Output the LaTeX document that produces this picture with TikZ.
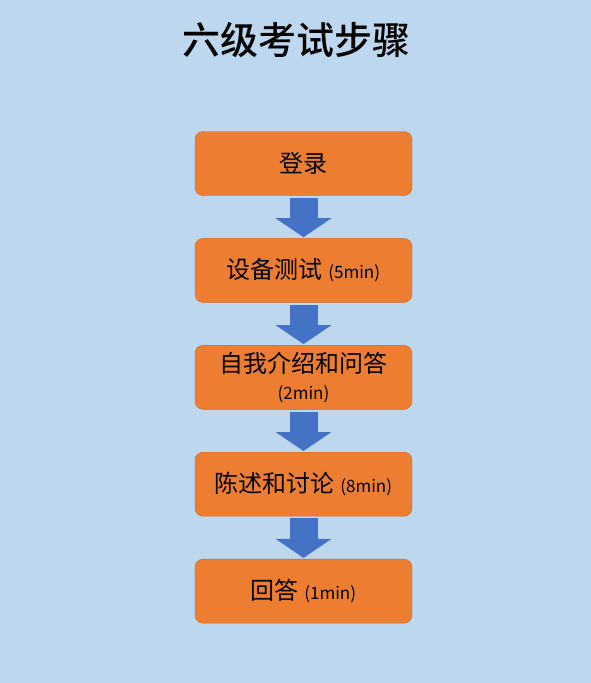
\documentclass[tikz,border=0pt]{standalone}
\usepackage{fontspec}
\setmainfont{Noto Sans CJK SC}
\newfontfamily\titlefont{Noto Sans CJK SC Medium}
\usetikzlibrary{positioning,arrows.meta}
\definecolor{bgblue}{RGB}{189,215,238}
\definecolor{boxorange}{RGB}{237,125,49}
\definecolor{boxedge}{RGB}{205,105,40}
\definecolor{arrowblue}{RGB}{68,114,196}
\tikzset{
  stepbox/.style={draw=boxedge,fill=boxorange,rounded corners=8pt,minimum width=217pt,minimum height=64pt,inner sep=0pt,align=center,font=\fontsize{24}{28}\selectfont},
  flow/.style={arrowblue,line width=28pt,shorten <=2pt,shorten >=1pt,-{Triangle[width=55pt,length=19pt]}}
}
\newcommand{\tmin}[1]{{\fontsize{17}{19}\selectfont #1}}
\begin{document}
\begin{tikzpicture}[x=1pt,y=-1pt,node distance=42.5pt]
    \fill[bgblue](0,0)rectangle(591,683);
    \node[font=\titlefont\fontsize{38}{42}\selectfont](title) at (296,40){六级考试步骤};
    \node[stepbox](s1) at (303.5,163.5){登录};
    \node[stepbox,below=of s1](s2){设备测试 \tmin{(5min)}};
    \node[stepbox,below=of s2](s3){自我介绍和问答\\[-1pt]\tmin{(2min)}};
    \node[stepbox,below=of s3](s4){陈述和讨论 \tmin{(8min)}};
    \node[stepbox,below=of s4](s5){回答 \tmin{(1min)}};
    \foreach \a/\b in {s1/s2,s2/s3,s3/s4,s4/s5} \draw[flow](\a)--(\b);
\end{tikzpicture}
\end{document}
